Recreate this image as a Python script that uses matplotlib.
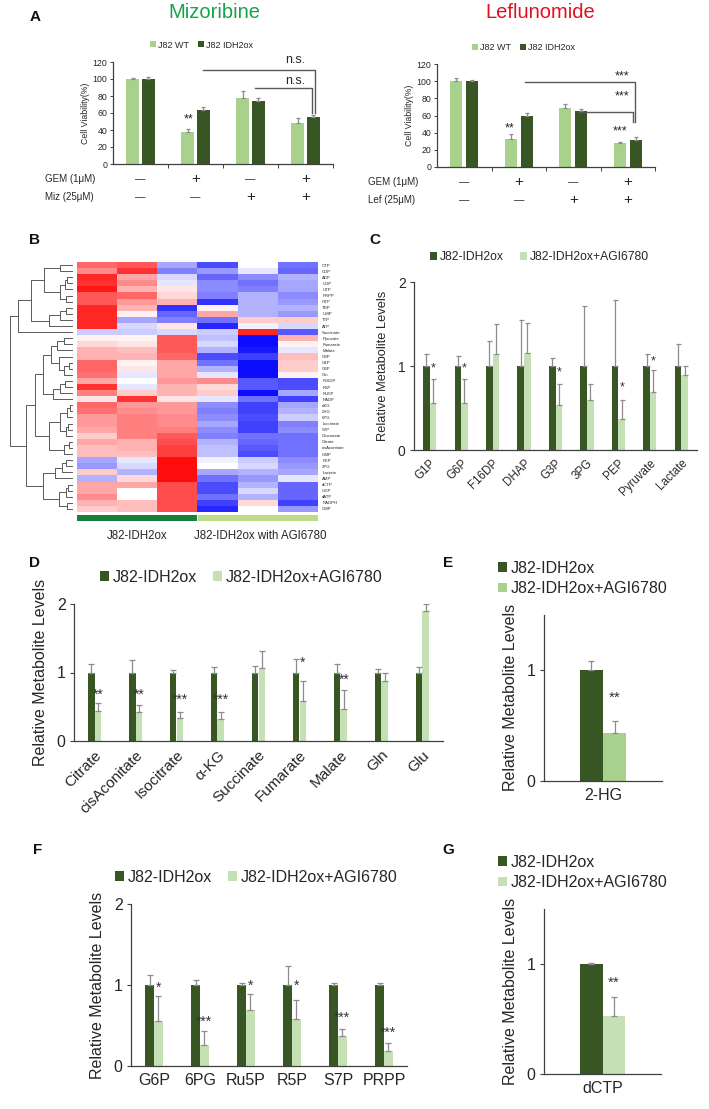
import numpy as np
import matplotlib
matplotlib.use('Agg')
import matplotlib.pyplot as plt
import matplotlib.transforms as mtrans
from matplotlib.patches import Patch

plt.rcParams['font.family'] = ['Liberation Sans', 'DejaVu Sans']

# ---------------- data ----------------
# Panel A
a_groups = [0, 1, 2, 3]
gem_signs = ['—', '+', '—', '+']
drug_signs = ['—', '—', '+', '+']

miz_wt = [100, 38, 78, 48]
miz_wt_err = [0.6, 3.5, 8, 6]
miz_ox = [100, 63, 74, 55]
miz_ox_err = [2, 4, 3.5, 2.5]

lef_wt = [100, 33, 69, 28.5]
lef_wt_err = [3.5, 5.5, 4, 1]
lef_ox = [100, 59.5, 65, 32]
lef_ox_err = [1, 3.5, 3, 2.5]

# significance brackets: (x_start, x_end, y_line, y_end, label, label_x, label_y)
miz_brackets = [(1.14, 3.17, 110.5, 60, 'n.s.', 2.82, 122),
                (2.08, 3.12, 89.5, 60, 'n.s.', 2.82, 98)]
miz_stars = [('**', 0.87, 53)]
lef_brackets = [(1.11, 3.13, 99, 52, '***', 2.89, 106),
                (2.09, 3.10, 64, 52, '***', 2.89, 82)]
lef_stars = [('**', 0.84, 45), ('***', 2.85, 41)]

# Panel B heatmap
hm_rows = ['CTP', 'CDP', 'ADP', 'UDP', 'UTP', 'PRPP', 'GTP', 'TDP', 'UMP', 'TTP', 'ATP',
           'Succinate', 'Pyruvate', 'Fumarate', 'Malate', 'G3P', 'G1P', 'G6P', 'Gln',
           'F16DP', 'R5P', 'RU5P', 'NADP', 'αKG', '2HG', '6PG', 'Isocitrate', 'S7P',
           'Gluconate', 'Citrate', 'cisAconitate', 'GMP', 'PEP', '3PG', 'Lactate', 'AMP',
           'dCTP', 'GDP', 'dATP', 'NADPH', 'CMP']
hm_values = [
    [0.60, 0.65, -0.35, -0.70, 0.00, -0.55],
    [0.45, 0.80, -0.50, -0.40, -0.10, -0.60],
    [0.85, 0.35, -0.15, -0.60, -0.45, -0.30],
    [0.80, 0.45, -0.10, -0.45, -0.55, -0.35],
    [0.90, 0.30, 0.10, -0.45, -0.50, -0.35],
    [0.65, 0.60, 0.15, -0.50, -0.30, -0.45],
    [0.65, 0.40, 0.30, -0.80, -0.30, -0.40],
    [0.85, 0.30, -0.80, 0.05, -0.30, -0.30],
    [0.85, 0.05, -0.60, 0.35, -0.30, -0.40],
    [0.85, -0.35, -0.50, -0.55, 0.20, 0.20],
    [0.85, -0.15, 0.10, -0.85, -0.05, -0.15],
    [-0.20, -0.20, -0.15, -0.20, 0.85, -0.65],
    [0.05, 0.05, 0.65, -0.25, -0.95, 0.30],
    [0.15, 0.10, 0.65, -0.15, -0.95, 0.05],
    [0.30, 0.25, 0.65, -0.30, -0.90, -0.10],
    [0.30, 0.30, 0.60, -0.70, -0.75, 0.25],
    [0.60, 0.05, 0.35, -0.55, -0.95, 0.20],
    [0.60, 0.10, 0.35, -0.30, -0.95, 0.20],
    [0.55, -0.10, 0.35, -0.10, -0.95, 0.05],
    [0.35, 0.00, 0.40, 0.45, -0.65, -0.70],
    [0.80, -0.10, 0.30, 0.15, -0.65, -0.70],
    [0.50, 0.20, 0.30, 0.20, -0.95, -0.35],
    [0.10, 0.80, 0.10, -0.10, -0.55, -0.75],
    [0.60, 0.40, 0.40, -0.45, -0.75, -0.35],
    [0.55, 0.45, 0.40, -0.50, -0.75, -0.30],
    [0.40, 0.50, 0.45, -0.45, -0.70, -0.20],
    [0.40, 0.50, 0.45, -0.35, -0.75, -0.50],
    [0.35, 0.50, 0.50, -0.45, -0.75, -0.45],
    [0.20, 0.50, 0.65, -0.50, -0.55, -0.55],
    [0.35, 0.30, 0.70, -0.30, -0.60, -0.55],
    [0.25, 0.30, 0.75, -0.25, -0.65, -0.55],
    [0.25, 0.25, 0.75, -0.25, -0.70, -0.55],
    [-0.35, -0.10, 0.95, -0.05, -0.20, -0.45],
    [-0.40, -0.15, 0.95, 0.00, -0.15, -0.40],
    [0.20, -0.30, 0.95, -0.35, -0.30, -0.35],
    [-0.30, 0.15, 0.95, -0.55, -0.40, -0.10],
    [0.35, 0.35, 0.70, -0.70, -0.30, -0.60],
    [0.35, 0.00, 0.70, -0.70, -0.15, -0.60],
    [0.45, 0.00, 0.70, -0.55, -0.30, -0.60],
    [0.30, 0.25, 0.70, -0.75, 0.15, -0.75],
    [0.20, 0.25, 0.70, -0.85, 0.00, -0.40],
]
# dendrogram: (merge height, left, right)
hm_tree = (64,
           (56,
            (42,
             (29, (12, 'CTP', 'CDP'),
                  (12, (7, (5, 'ADP', 'UDP'), 'UTP'), (6, 'PRPP', 'GTP'))),
             (24, (12, (6, 'TDP', 'UMP'), 'TTP'), 'ATP')),
            'Succinate'),
           (47,
            (38,
             (30,
              (22, (16, (8, 'Pyruvate', 'Fumarate'), 'Malate'),
                   (14, 'G3P', (8, (3, 'G1P', 'G6P'), 'Gln'))),
              (20, (12, (7, 'F16DP', 'R5P'), 'RU5P'), 'NADP')),
             (24,
              (12, (5, (2, 'αKG', '2HG'), '6PG'), (6, (4, 'Isocitrate', 'S7P'), 'Gluconate')),
              (8, (3, 'Citrate', 'cisAconitate'), 'GMP'))),
            (30,
             (18, (10, (6, 'PEP', '3PG'), 'Lactate'), 'AMP'),
             (14, (6, (4, 'dCTP', 'GDP'), 'dATP'), (5, 'NADPH', 'CMP')))))
hm_groups = ['J82-IDH2ox', 'J82-IDH2ox with AGI6780']

# Panel C
c_cats = ['G1P', 'G6P', 'F16DP', 'DHAP', 'G3P', '3PG', 'PEP', 'Pyruvate', 'Lactate']
c_dark = [1, 1, 1, 1, 1, 1, 1, 1, 1]
c_dark_err = [0.14, 0.12, 0.30, 0.55, 0.10, 0.71, 0.79, 0.14, 0.26]
c_light = [0.56, 0.56, 1.14, 1.16, 0.54, 0.60, 0.37, 0.69, 0.89]
c_light_err = [0.29, 0.29, 0.36, 0.35, 0.25, 0.19, 0.22, 0.26, 0.11]
c_stars = ['*', '*', '', '', '*', '', '*', '*', '']
c_star_y = [0.97, 0.97, 0, 0, 0.92, 0, 0.75, 1.05, 0]

# Panel D
d_cats = ['Citrate', 'cisAconitate', 'Isocitrate', 'α-KG', 'Succinate', 'Fumarate',
          'Malate', 'Gln', 'Glu']
d_dark = [1, 1, 1, 1, 1, 1, 1, 1, 1]
d_dark_err = [0.13, 0.18, 0.04, 0.08, 0.09, 0.19, 0.12, 0.05, 0.08]
d_light = [0.44, 0.42, 0.33, 0.32, 1.06, 0.58, 0.47, 0.88, 1.90]
d_light_err = [0.12, 0.10, 0.10, 0.10, 0.25, 0.30, 0.27, 0.11, 0.10]
d_stars = ['**', '**', '***', '***', '', '*', '**', '', '']
d_star_y = [0.67, 0.67, 0.60, 0.60, 0, 1.14, 0.90, 0, 0]

# Panel E
e_cats = ['2-HG']
e_dark = [1.0]
e_dark_err = [0.08]
e_light = [0.43]
e_light_err = [0.11]
e_stars = ['**']
e_star_y = [0.75]

# Panel F
f_cats = ['G6P', '6PG', 'Ru5P', 'R5P', 'S7P', 'PRPP']
f_dark = [1, 1, 1, 1, 1, 1]
f_dark_err = [0.12, 0.06, 0.03, 0.23, 0.02, 0.02]
f_light = [0.55, 0.26, 0.69, 0.58, 0.37, 0.19]
f_light_err = [0.31, 0.17, 0.20, 0.24, 0.09, 0.10]
f_stars = ['*', '***', '*', '*', '***', '***']
f_star_y = [0.97, 0.55, 0.99, 0.99, 0.60, 0.41]

# Panel G
g_cats = ['dCTP']
g_dark = [1.0]
g_dark_err = [0.005]
g_light = [0.53]
g_light_err = [0.17]
g_stars = ['**']
g_star_y = [0.83]

series_names = ['J82-IDH2ox', 'J82-IDH2ox+AGI6780']

# ---------------- style ----------------
W, H = 709, 1109
DARK = '#375623'
LIGHT_A = '#a9d18e'
LIGHT = '#c5e0b4'
ERR = '#8c8c8c'
AXC = '#404040'
TXT = '#262626'

fig = plt.figure(figsize=(W / 100, H / 100), dpi=100)


def rect(l, t, r, b):
    return [l / W, 1 - b / H, (r - l) / W, (b - t) / H]


def eb(ax, x, y, err, cap=2.0):
    err = np.asarray(err, dtype=float)
    ax.errorbar(x, y, yerr=[np.zeros_like(err), err], fmt='none', ecolor=ERR,
                elinewidth=0.9, capsize=cap, capthick=0.9, zorder=3)


def style_axes(ax):
    for s in ['top', 'right']:
        ax.spines[s].set_visible(False)
    for s in ['left', 'bottom']:
        ax.spines[s].set_color(AXC)
        ax.spines[s].set_linewidth(0.9)


def legend_at(labels, colors, x_px, y_px, fs, ncol, hl, colsp, lsp=0.3):
    handles = [Patch(facecolor=c, edgecolor='none') for c in colors]
    fig.legend(handles, labels, loc='center left', bbox_to_anchor=(x_px / W, 1 - y_px / H),
               ncol=ncol, frameon=False, fontsize=fs, handlelength=hl, handleheight=hl,
               handletextpad=0.25, columnspacing=colsp, borderpad=0, borderaxespad=0,
               labelspacing=lsp, labelcolor=TXT)


# ---------------- Panel A ----------------
def panel_a(box, title, tcolor, tx, wt, wte, ox, oxe, drug_label, brackets, stars,
            leg_x, leg_y, row_y, lab_x):
    l, t, r, b = box
    ax = fig.add_axes(rect(l, t, r, b))
    x = np.array(a_groups, dtype=float)
    bw = 0.22
    ax.bar(x - 0.145, wt, bw, color=LIGHT_A, zorder=2)
    ax.bar(x + 0.145, ox, bw, color=DARK, zorder=2)
    eb(ax, x - 0.145, wt, wte, cap=1.5)
    eb(ax, x + 0.145, ox, oxe, cap=1.5)
    ax.set_xlim(-0.5, 3.5)
    ax.set_ylim(0, 120)
    ax.set_yticks(np.arange(0, 121, 20))
    ax.tick_params(axis='y', labelsize=6.3, length=2.5, width=0.7, color=AXC, pad=1.5,
                   labelcolor=TXT)
    ax.set_xticks([0.5, 1.5, 2.5, 3.5])
    ax.set_xticklabels([])
    ax.tick_params(axis='x', length=3, width=0.7, color=AXC)
    style_axes(ax)
    ax.set_ylabel('Cell Viability(%)', fontsize=6.3, labelpad=2, color=TXT)
    for x0, x1, y0, y1, lab, lx, ly in brackets:
        ax.plot([x0, x1, x1], [y0, y0, y1], color='#595959', lw=1.0, clip_on=False, zorder=4)
        ax.text(lx, ly, lab, ha='center', va='center', fontsize=9, color=TXT, clip_on=False)
    for lab, sx, sy in stars:
        ax.text(sx, sy, lab, ha='center', va='center', fontsize=9, color=TXT)
    fig.text(tx / W, 1 - 12 / H, title, color=tcolor, fontsize=14.5, ha='center', va='center')
    legend_at(['J82 WT', 'J82 IDH2ox'], [LIGHT_A, DARK], leg_x, leg_y, 6.5, 2, 0.65, 1.0)
    trans = mtrans.blended_transform_factory(ax.transData, fig.transFigure)
    for yy, name, signs in [(row_y[0], 'GEM (1μM)', gem_signs), (row_y[1], drug_label, drug_signs)]:
        fig.text(lab_x / W, 1 - yy / H, name, fontsize=7, ha='left', va='center', color=TXT)
        for xi, s in zip(a_groups, signs):
            ax.text(xi, 1 - yy / H, s, transform=trans, ha='center', va='center',
                    fontsize=7.5 if s == '—' else 11, color=TXT)


panel_a((113, 62, 333, 164), 'Mizoribine', '#17a34a', 214, miz_wt, miz_wt_err, miz_ox,
        miz_ox_err, 'Miz (25μM)', miz_brackets, miz_stars, 150, 45, (179, 197), 45)
panel_a((437, 64, 655, 167), 'Leflunomide', '#e3101e', 540, lef_wt, lef_wt_err, lef_ox,
        lef_ox_err, 'Lef (25μM)', lef_brackets, lef_stars, 472, 48, (182, 200), 368)

# ---------------- Panel B ----------------
hm = np.array(hm_values)
axh = fig.add_axes(rect(77, 262, 318, 512))
axh.imshow(hm, cmap='bwr', vmin=-1, vmax=1, aspect='auto', interpolation='nearest')
axh.set_xticks([])
axh.yaxis.tick_right()
axh.set_yticks(np.arange(len(hm_rows)))
axh.set_yticklabels(hm_rows, fontsize=3.1, color=TXT)
axh.tick_params(axis='y', length=0, pad=3)
for s in axh.spines.values():
    s.set_visible(False)

axd = fig.add_axes(rect(8, 262, 77, 512))
leaf_pos = {n: i for i, n in enumerate(hm_rows)}


def draw_tree(node):
    if isinstance(node, str):
        return leaf_pos[node], 0.0
    h, left, right = node
    y1, h1 = draw_tree(left)
    y2, h2 = draw_tree(right)
    axd.plot([h1, h, h, h2], [y1, y1, y2, y2], color='#5a5a5a', lw=0.7)
    return (y1 + y2) / 2, h


draw_tree(hm_tree)
axd.set_ylim(len(hm_rows) - 0.5, -0.5)
axd.set_xlim(66, -5)
axd.axis('off')

axg = fig.add_axes(rect(77, 515, 318, 521))
axg.bar([0, 1], [1, 1], width=0.995, color=['#17803d', '#bcdc8c'])
axg.set_xlim(-0.5, 1.5)
axg.set_ylim(0, 1)
axg.axis('off')
fig.text(137 / W, 1 - 536 / H, hm_groups[0], fontsize=8.3, ha='center', va='center', color=TXT)
fig.text(260 / W, 1 - 536 / H, hm_groups[1], fontsize=8.3, ha='center', va='center', color=TXT)


# ---------------- metabolite panels ----------------
def metab_panel(box, cats, dark, dark_err, light, light_err, stars, star_y, light_color,
                ymax, yticks, fs_ytick, fs_ylabel, fs_xtick, xrot, star_fs, bw, cap=2.0):
    l, t, r, b = box
    ax = fig.add_axes(rect(l, t, r, b))
    x = np.arange(len(cats), dtype=float)
    ax.bar(x - bw / 2, dark, bw, color=DARK, zorder=2)
    ax.bar(x + bw / 2, light, bw, color=light_color, zorder=2)
    eb(ax, x - bw / 2, dark, dark_err, cap)
    eb(ax, x + bw / 2, light, light_err, cap)
    for xi, s, sy in zip(x, stars, star_y):
        if s:
            ax.text(xi + bw / 2, sy, s, ha='center', va='center', fontsize=star_fs,
                    color='#333333', zorder=5)
    ax.set_xlim(-0.5, len(cats) - 0.5)
    ax.set_ylim(0, ymax)
    ax.set_yticks(yticks)
    ax.set_yticklabels([str(v) for v in yticks])
    ax.tick_params(axis='y', labelsize=fs_ytick, length=3, width=0.8, color=AXC, pad=3,
                   labelcolor=TXT)
    ax.set_xticks(x)
    if xrot:
        ax.set_xticklabels(cats, rotation=45, ha='right', rotation_mode='anchor',
                           fontsize=fs_xtick, color=TXT)
    else:
        ax.set_xticklabels(cats, fontsize=fs_xtick, color=TXT)
    ax.tick_params(axis='x', length=0, pad=5)
    style_axes(ax)
    ax.set_ylabel('Relative Metabolite Levels', fontsize=fs_ylabel, color=TXT, labelpad=6)
    return ax


# C
metab_panel((414, 282, 697, 450), c_cats, c_dark, c_dark_err, c_light, c_light_err,
            c_stars, c_star_y, LIGHT, 2, [0, 1, 2], 10, 9.3, 8.3, True, 9, 0.21, 1.8)
legend_at(series_names, [DARK, LIGHT], 430, 257, 8.7, 2, 0.6, 1.3)

# D
metab_panel((74, 604, 443, 741), d_cats, d_dark, d_dark_err, d_light, d_light_err,
            d_stars, d_star_y, LIGHT, 2, [0, 1, 2], 11.5, 11.5, 11, True, 10, 0.17, 2.0)
legend_at(series_names, [DARK, LIGHT], 100, 577, 11.5, 2, 0.55, 1.0)

# E
metab_panel((544, 614.5, 662, 781), e_cats, e_dark, e_dark_err, e_light, e_light_err,
            e_stars, e_star_y, LIGHT_A, 1.5, [0, 1], 11.5, 11.5, 11.5, False, 11, 0.195, 2.5)
legend_at(series_names, [DARK, LIGHT_A], 498, 578.5, 11.5, 1, 0.55, 1.0, 0.35)

# F
metab_panel((131, 904, 407, 1066), f_cats, f_dark, f_dark_err, f_light, f_light_err,
            f_stars, f_star_y, LIGHT, 2, [0, 1, 2], 11.5, 11.5, 11.5, False, 10, 0.185, 2.0)
legend_at(series_names, [DARK, LIGHT], 115, 877, 11.5, 2, 0.55, 1.0)

# G
metab_panel((544, 909, 661, 1074), g_cats, g_dark, g_dark_err, g_light, g_light_err,
            g_stars, g_star_y, LIGHT, 1.5, [0, 1], 11.5, 11.5, 11.5, False, 11, 0.195, 2.5)
legend_at(series_names, [DARK, LIGHT], 498, 872.5, 11.5, 1, 0.55, 1.0, 0.35)

# panel letters
for lab, px, py in [('A', 35, 17), ('B', 35, 240), ('C', 375, 240), ('D', 35, 563),
                    ('E', 448, 563), ('F', 38, 850), ('G', 448, 850)]:
    fig.text(px / W, 1 - py / H, lab, fontsize=11, fontweight='bold', ha='center',
             va='center', color='#111111')

fig.savefig('out.png', dpi=100)
